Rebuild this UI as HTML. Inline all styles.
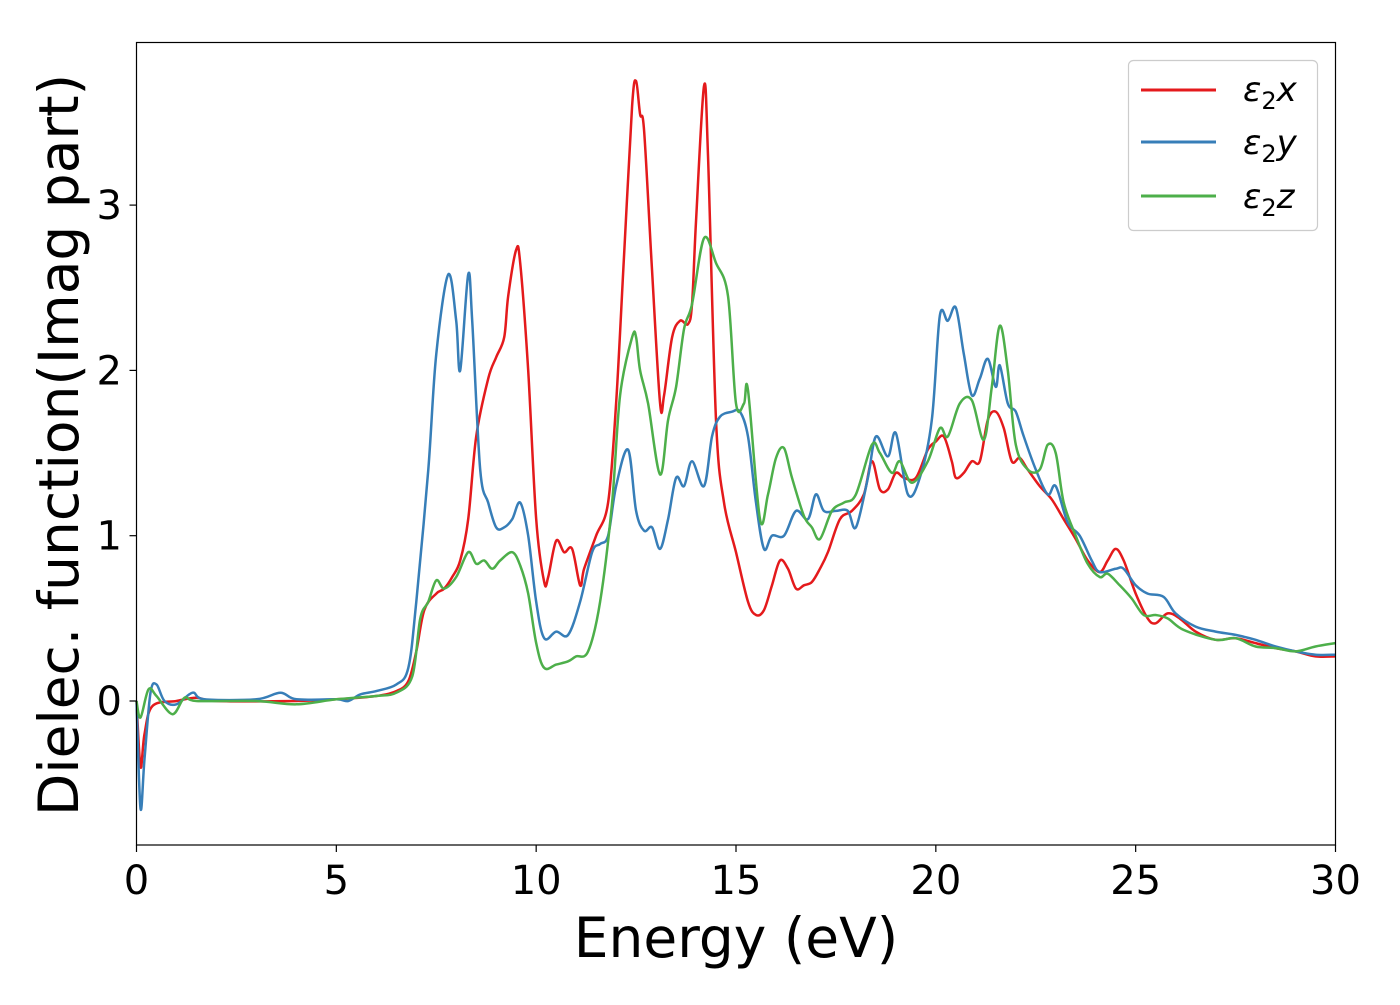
<!DOCTYPE html>
<html><head><meta charset="utf-8"><style>
body{margin:0;background:#fff;}
svg text{font-family:"DejaVu Sans","Liberation Sans",sans-serif;fill:#000;}
</style></head><body>
<svg id="chart" width="1400" height="1000" xmlns="http://www.w3.org/2000/svg">
<rect x="0" y="0" width="1400" height="1000" fill="#fff"/>
<g id="series"></g>
<rect x="136.5" y="42.5" width="1199" height="802.5" fill="none" stroke="#000" stroke-width="1.2"/>
<g id="xticks"></g><g id="yticks"></g>
<text x="736" y="957" font-size="55" text-anchor="middle">Energy (eV)</text>
<text transform="translate(78,445) rotate(-90)" font-size="55" text-anchor="middle">Dielec. function(Imag part)</text>
<g>
<rect x="1128.5" y="60.5" width="189" height="170" rx="5" fill="#fff" stroke="#ccc" stroke-width="1.2"/>
<line x1="1141" y1="90" x2="1216" y2="90" stroke="#e41a1c" stroke-width="3"/>
<text x="1243" y="101" font-size="34" font-style="italic">ε<tspan font-style="normal" font-size="24" dy="8">2</tspan><tspan dy="-8">x</tspan></text>
<line x1="1141" y1="142" x2="1216" y2="142" stroke="#377eb8" stroke-width="3"/>
<text x="1243" y="154" font-size="34" font-style="italic">ε<tspan font-style="normal" font-size="24" dy="8">2</tspan><tspan dy="-8">y</tspan></text>
<line x1="1141" y1="196" x2="1216" y2="196" stroke="#4daf4a" stroke-width="3"/>
<text x="1243" y="208" font-size="34" font-style="italic">ε<tspan font-style="normal" font-size="24" dy="8">2</tspan><tspan dy="-8">z</tspan></text>
</g>
</svg>
<script>
const xTicks=[0,5,10,15,20,25,30];
const yTicks=[0,1,2,3];
const redX=[0,0.1,0.2,0.4,1,1.5,2,4,5,6,6.5,6.8,7,7.2,7.5,7.7,7.9,8.1,8.3,8.5,8.8,9.0,9.2,9.3,9.5,9.6,9.8,10.0,10.2,10.3,10.5,10.7,10.9,11.1,11.2,11.5,11.8,12.0,12.2,12.4,12.5,12.6,12.7,12.9,13.1,13.2,13.4,13.6,13.8,13.9,14.0,14.2,14.3,14.5,14.7,15.0,15.3,15.5,15.7,15.9,16.1,16.3,16.5,16.7,16.9,17.1,17.3,17.6,17.9,18.2,18.4,18.6,18.8,19.0,19.2,19.5,19.8,20.0,20.2,20.4,20.5,20.7,20.9,21.1,21.3,21.5,21.7,21.9,22.1,22.3,22.6,22.9,23.2,23.5,23.8,24.1,24.3,24.5,24.7,25.0,25.3,25.5,25.8,26.1,26.5,27,27.5,28,28.5,29,29.5,30];
const redY=[0,-0.4,-0.2,-0.03,0,0.02,0,0,0.01,0.03,0.06,0.12,0.3,0.55,0.65,0.68,0.75,0.85,1.1,1.6,1.95,2.08,2.2,2.45,2.73,2.65,2.0,1.1,0.72,0.75,0.97,0.9,0.92,0.7,0.8,1.0,1.2,1.8,2.7,3.6,3.75,3.55,3.45,2.6,1.8,1.85,2.2,2.3,2.28,2.4,2.9,3.72,3.3,1.7,1.2,0.9,0.6,0.52,0.55,0.7,0.85,0.8,0.68,0.7,0.72,0.8,0.9,1.1,1.15,1.25,1.45,1.28,1.28,1.38,1.35,1.35,1.52,1.57,1.6,1.45,1.35,1.38,1.45,1.45,1.7,1.75,1.65,1.45,1.47,1.4,1.3,1.22,1.1,0.98,0.85,0.78,0.85,0.92,0.85,0.65,0.5,0.47,0.53,0.5,0.42,0.37,0.38,0.35,0.32,0.3,0.27,0.27];
const blueX=[0,0.1,0.2,0.35,0.5,0.7,1,1.4,1.7,3,3.6,4,5,5.3,5.6,6,6.5,6.8,7,7.3,7.5,7.8,8.0,8.1,8.3,8.4,8.6,8.8,9.0,9.2,9.4,9.6,9.8,10.0,10.2,10.5,10.8,11.1,11.4,11.6,11.8,12.0,12.3,12.5,12.7,12.9,13.1,13.3,13.5,13.7,13.9,14.2,14.4,14.6,14.9,15.1,15.3,15.5,15.7,15.9,16.2,16.5,16.8,17.0,17.2,17.5,17.8,18.0,18.3,18.5,18.8,19.0,19.3,19.6,19.9,20.1,20.3,20.5,20.7,20.9,21.1,21.3,21.5,21.6,21.8,22.0,22.2,22.5,22.8,23.0,23.3,23.6,23.9,24.1,24.5,24.7,25.0,25.3,25.7,26.0,26.5,27,27.5,28,28.5,29,29.5,30];
const blueY=[0,-0.65,-0.35,0.05,0.1,0.0,-0.02,0.05,0.01,0.01,0.05,0.01,0.01,0,0.04,0.06,0.1,0.2,0.6,1.4,2.1,2.58,2.3,2.0,2.58,2.3,1.4,1.2,1.05,1.05,1.1,1.2,1.0,0.6,0.38,0.42,0.4,0.6,0.9,0.95,1.0,1.3,1.52,1.15,1.03,1.05,0.92,1.1,1.35,1.3,1.45,1.3,1.6,1.72,1.75,1.75,1.6,1.2,0.92,1.0,1.0,1.15,1.1,1.25,1.15,1.15,1.15,1.05,1.35,1.6,1.48,1.62,1.25,1.35,1.7,2.33,2.3,2.38,2.1,1.85,1.95,2.07,1.9,2.03,1.8,1.75,1.6,1.4,1.25,1.3,1.08,1.0,0.85,0.78,0.8,0.8,0.7,0.65,0.63,0.53,0.45,0.42,0.4,0.37,0.33,0.3,0.28,0.28];
const greenX=[0,0.1,0.3,0.5,0.9,1.2,1.5,3,4,5,6,6.5,6.9,7.1,7.3,7.5,7.7,8.0,8.3,8.5,8.7,8.9,9.1,9.4,9.6,9.8,10.0,10.2,10.5,10.8,11.0,11.3,11.6,11.9,12.1,12.4,12.5,12.6,12.8,13.1,13.3,13.5,13.7,13.9,14.2,14.5,14.8,15.0,15.2,15.3,15.6,15.8,16.0,16.2,16.4,16.7,16.9,17.1,17.4,17.7,18.0,18.4,18.6,18.9,19.1,19.4,19.8,20.1,20.3,20.6,20.9,21.2,21.4,21.6,21.8,22.0,22.3,22.6,22.8,23.0,23.2,23.5,23.8,24.1,24.3,24.6,24.9,25.2,25.5,25.8,26.2,27,27.5,28,28.5,29,29.5,30];
const greenY=[0,-0.1,0.07,0.03,-0.08,0.02,0,0,-0.02,0.01,0.03,0.05,0.15,0.5,0.6,0.73,0.68,0.75,0.9,0.83,0.85,0.8,0.85,0.9,0.82,0.65,0.35,0.2,0.22,0.24,0.27,0.3,0.6,1.2,1.85,2.2,2.2,2.0,1.8,1.37,1.7,1.9,2.25,2.4,2.8,2.65,2.45,1.8,1.8,1.88,1.1,1.25,1.47,1.53,1.35,1.12,1.05,0.98,1.15,1.2,1.25,1.55,1.5,1.38,1.45,1.32,1.45,1.65,1.6,1.8,1.82,1.58,1.9,2.27,2.0,1.55,1.4,1.4,1.55,1.5,1.2,1.0,0.83,0.75,0.77,0.7,0.62,0.52,0.52,0.5,0.43,0.37,0.38,0.33,0.32,0.3,0.33,0.35];
const NS='http://www.w3.org/2000/svg';
function sx(v){return 136.5+v*(1199/30);}
function sy(v){return 701-v*165.3;}
function pathFor(xs,ys){
  const p=xs.map((x,i)=>[sx(x),sy(ys[i])]);
  let d='M'+p[0][0].toFixed(1)+','+p[0][1].toFixed(1);
  for(let i=0;i<p.length-1;i++){
    const p0=p[Math.max(0,i-1)],p1=p[i],p2=p[i+1],p3=p[Math.min(p.length-1,i+2)];
    const c1=[p1[0]+(p2[0]-p0[0])/6,p1[1]+(p2[1]-p0[1])/6];
    const c2=[p2[0]-(p3[0]-p1[0])/6,p2[1]-(p3[1]-p1[1])/6];
    d+='C'+c1[0].toFixed(1)+','+c1[1].toFixed(1)+' '+c2[0].toFixed(1)+','+c2[1].toFixed(1)+' '+p2[0].toFixed(1)+','+p2[1].toFixed(1);
  }
  return d;
}
const g=document.getElementById('series');
[[redX,redY,'#e41a1c','series-eps2x'],[blueX,blueY,'#377eb8','series-eps2y'],[greenX,greenY,'#4daf4a','series-eps2z']].forEach(s=>{
  const el=document.createElementNS(NS,'path');
  el.setAttribute('d',pathFor(s[0],s[1]));
  el.setAttribute('fill','none');el.setAttribute('stroke',s[2]);el.setAttribute('stroke-width','2.5');
  
  
  g.appendChild(el);
});
const xt=document.getElementById('xticks');
xTicks.forEach(v=>{
  const l=document.createElementNS(NS,'line');
  l.setAttribute('x1',sx(v));l.setAttribute('x2',sx(v));l.setAttribute('y1',845);l.setAttribute('y2',852);l.setAttribute('stroke','#000');l.setAttribute('stroke-width','1.2');
  
  
  xt.appendChild(l);
  const t=document.createElementNS(NS,'text');
  t.setAttribute('x',sx(v));t.setAttribute('y',894);t.setAttribute('font-size','40');t.setAttribute('text-anchor','middle');
  t.textContent=v;
  
  
  xt.appendChild(t);
});
const yt=document.getElementById('yticks');
yTicks.forEach(v=>{
  const l=document.createElementNS(NS,'line');
  l.setAttribute('x1',129.5);l.setAttribute('x2',136.5);l.setAttribute('y1',sy(v));l.setAttribute('y2',sy(v));l.setAttribute('stroke','#000');l.setAttribute('stroke-width','1.2');
  
  
  yt.appendChild(l);
  const t=document.createElementNS(NS,'text');
  t.setAttribute('x',122);t.setAttribute('y',sy(v)+14);t.setAttribute('font-size','40');t.setAttribute('text-anchor','end');
  t.textContent=v;
  
  
  yt.appendChild(t);
});
</script>
</body></html>
